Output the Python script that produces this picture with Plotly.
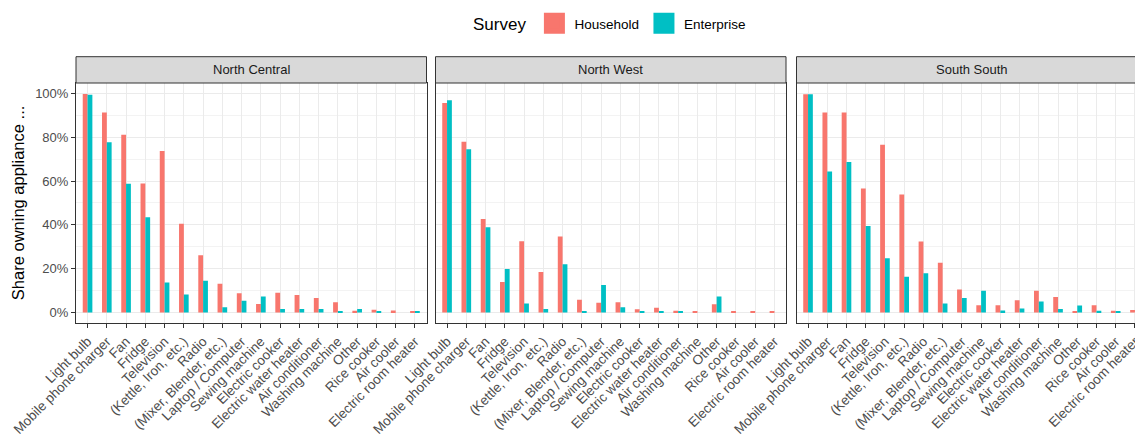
import plotly.graph_objects as go

categories = ["Light bulb", "Mobile phone charger", "Fan", "Fridge", "Television",
              "(Kettle, Iron, etc.)", "Radio", "(Mixer, Blender, etc.)", "Laptop / Computer",
              "Sewing machine", "Electric cooker", "Electric water heater", "Air conditioner",
              "Washing machine", "Other", "Rice cooker", "Air cooler", "Electric room heater"]

regions = ["North Central", "North West", "South South"]

nc_household = [99.8, 91.3, 81.1, 58.9, 73.7, 40.5, 26.1, 13.1, 8.7, 3.8, 9.0, 7.9, 6.6, 4.6, 0.8, 1.2, 0.9, 0.5]
nc_enterprise = [99.4, 77.7, 58.8, 43.5, 13.6, 8.2, 14.4, 2.3, 5.3, 7.2, 1.5, 1.5, 1.5, 0.3, 1.5, 0.3, 0.0, 0.3]

nw_household = [95.6, 78.0, 42.7, 13.9, 32.5, 18.5, 34.7, 5.8, 4.4, 4.6, 1.4, 2.1, 0.8, 0.5, 3.7, 0.2, 0.4, 0.2]
nw_enterprise = [96.9, 74.5, 38.9, 19.8, 4.1, 1.5, 22.0, 0.3, 12.5, 2.3, 0.3, 0.3, 0.3, 0.0, 7.2, 0.0, 0.0, 0.0]

ss_household = [99.7, 91.3, 91.3, 56.6, 76.6, 53.9, 32.4, 22.7, 10.5, 3.2, 3.2, 5.5, 9.9, 7.0, 0.2, 3.2, 0.8, 1.1]
ss_enterprise = [99.7, 64.4, 68.7, 39.5, 24.7, 16.3, 17.9, 4.1, 6.6, 9.9, 0.9, 1.8, 5.0, 1.5, 3.1, 0.8, 0.5, 0.0]

surveys = ["Household", "Enterprise"]
colors = {"Household": "#F8766D", "Enterprise": "#00BFC4"}

data = {
    "North Central": {"Household": nc_household, "Enterprise": nc_enterprise},
    "North West": {"Household": nw_household, "Enterprise": nw_enterprise},
    "South South": {"Household": ss_household, "Enterprise": ss_enterprise},
}

# the page body has an 8px margin; compensate so the figure lines up with the window
OFF = 8
W, H = 1143 - OFF, 442 - OFF
FONT = "Liberation Sans, Arial, sans-serif"

def px_x(v):
    return (v - OFF) / W

def px_y(v):
    return (H - (v - OFF)) / H

# panel geometry (window pixels)
panels_px = [(76, 426.5), (435.5, 786), (796.5, 1146.5)]
plot_top_px, plot_bot_px = 83.0, 323.3
strip_top_px = 56.7

y_bottom = px_y(plot_bot_px)
y_top = px_y(plot_top_px)
y_strip_top = px_y(strip_top_px)

all_vals = nc_household + nc_enterprise + nw_household + nw_enterprise + ss_household + ss_enterprise
ymax = max(all_vals)
ypad = 0.05 * ymax
n = len(categories)

fig = go.Figure()

for i, region in enumerate(regions):
    ax = "" if i == 0 else str(i + 1)
    for s in surveys:
        fig.add_trace(go.Bar(
            x=categories, y=data[region][s], name=s,
            marker=dict(color=colors[s], line=dict(width=0)),
            xaxis="x" + ax, yaxis="y" + ax, offsetgroup=s,
            showlegend=False,
        ))

# legend entries
for s in surveys:
    fig.add_trace(go.Scatter(
        x=[None], y=[None], mode="markers", name=s,
        marker=dict(symbol="square", size=16, color=colors[s], line=dict(color=colors[s], width=5)),
        xaxis="x", yaxis="y", showlegend=True,
    ))

layout = dict(
    width=W, height=H,
    margin=dict(l=0, r=0, t=0, b=0),
    paper_bgcolor="white", plot_bgcolor="white",
    barmode="group", bargap=0.5, bargroupgap=0.0,
    font=dict(family=FONT, color="#4d4d4d", size=13),
    showlegend=True,
    legend=dict(
        orientation="h", x=px_x(611), xanchor="center", y=1.0, yanchor="top",
        title=dict(text="Survey", font=dict(size=17, color="black", family=FONT)),
        font=dict(size=13.5, color="black", family=FONT),
        itemsizing="trace", traceorder="normal",
        bgcolor="rgba(0,0,0,0)",
    ),
)

shapes = []
annotations = []
for i, region in enumerate(regions):
    ax = "" if i == 0 else str(i + 1)
    x0px, x1px = panels_px[i]
    d0 = px_x(x0px)
    d1 = min(px_x(x1px), 1.0)
    unit = (x1px - x0px) / (n + 0.2)
    right = (n - 1) + 0.6 - (px_x(x1px) - d1) * W / unit
    layout["xaxis" + ax] = dict(
        domain=[d0, d1], anchor="y" + ax,
        type="category", categoryorder="array", categoryarray=categories,
        range=[-0.6, right],
        tickangle=-45, tickfont=dict(size=13.5, color="#4d4d4d", family=FONT),
        ticks="outside", ticklen=4, tickcolor="#333333", tickwidth=1,
        showgrid=True, gridcolor="#ebebeb", gridwidth=1,
        showline=True, linecolor="#333333", linewidth=1, mirror=True,
        zeroline=False, automargin=False,
    )
    layout["yaxis" + ax] = dict(
        domain=[y_bottom, y_top], anchor="x" + ax,
        range=[-ypad, ymax + ypad],
        tick0=0, dtick=20, ticksuffix="%",
        showticklabels=(i == 0),
        ticks="outside" if i == 0 else "", ticklen=4, tickcolor="#333333", tickwidth=1,
        tickfont=dict(size=13, color="#4d4d4d", family=FONT),
        showgrid=True, gridcolor="#ebebeb", gridwidth=1.1,
        minor=dict(dtick=10, tick0=0, showgrid=True, gridcolor="#f3f3f3", gridwidth=0.6),
        showline=True, linecolor="#333333", linewidth=1, mirror=(i != 2),
        zeroline=False, automargin=False,
    )
    shapes.append(dict(
        type="rect", xref="paper", yref="paper",
        x0=px_x(x0px), x1=px_x(x1px), y0=y_top, y1=y_strip_top,
        fillcolor="#d9d9d9", line=dict(color="#333333", width=1), layer="above",
    ))
    annotations.append(dict(
        text=region, xref="paper", yref="paper",
        x=px_x((x0px + x1px) / 2), y=(y_top + y_strip_top) / 2,
        xanchor="center", yanchor="middle", showarrow=False,
        font=dict(size=13, color="#1a1a1a", family=FONT),
    ))

annotations.append(dict(
    text="Share owning appliance ...", xref="paper", yref="paper",
    x=px_x(18), y=(y_bottom + y_top) / 2, textangle=-90,
    xanchor="center", yanchor="middle", showarrow=False,
    font=dict(size=16.5, color="black", family=FONT),
))

layout["shapes"] = shapes
layout["annotations"] = annotations
fig.update_layout(**layout)

fig.write_html("out.html")
